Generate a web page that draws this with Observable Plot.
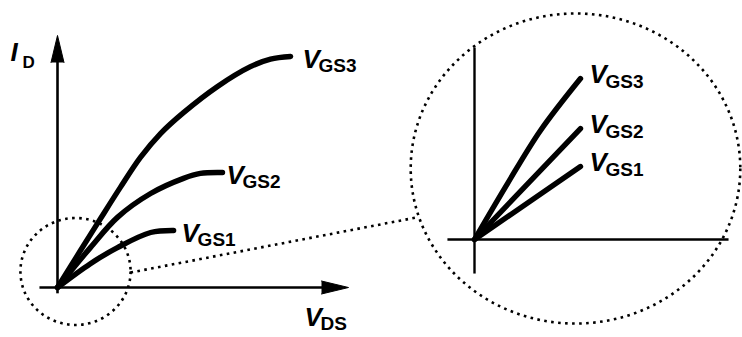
<!DOCTYPE html>
<html><head><meta charset="utf-8">
<script src="https://cdn.jsdelivr.net/npm/d3@7"></script>
<script src="https://cdn.jsdelivr.net/npm/@observablehq/plot@0.6"></script>
<style>body{margin:0;background:#fff}#chart svg{display:block;background:#fff}</style>
</head><body><div id="chart"></div>
<script>
// ---- Data (arbitrary units: V_DS, I_D) ----
const curveVGS3 = [
  {vds:0,id:0},{vds:0.79,id:1.27},{vds:1.48,id:2.37},{vds:2.16,id:3.44},{vds:2.85,id:4.47},
  {vds:3.54,id:5.29},{vds:4.33,id:6.01},{vds:5.50,id:6.91},{vds:6.63,id:7.59},{vds:7.32,id:7.85},{vds:8.01,id:7.94}
];
const curveVGS2 = [
  {vds:0,id:0},{vds:1.13,id:1.37},{vds:2.06,id:2.41},{vds:3.20,id:3.23},{vds:4.33,id:3.75},{vds:4.91,id:3.92},{vds:5.67,id:3.95}
];
const curveVGS1 = [
  {vds:0,id:0},{vds:1.13,id:0.82},{vds:2.06,id:1.37},{vds:3.20,id:1.89},{vds:3.99,id:1.96}
];
// zoomed-in (inset) view near the origin, in magnified units
const insetVGS3 = [{vds:0,id:0},{vds:0.378,id:0.641},{vds:0.756,id:1.249},{vds:1.214,id:1.844}];
const insetVGS2 = [{vds:0,id:0},{vds:1.214,id:1.271}];
const insetVGS1 = [{vds:0,id:0},{vds:1.214,id:0.836}];
const seriesNames = ["GS1", "GS2", "GS3"];
const axisLabelX = ["V", "DS"];
const axisLabelY = ["I", "D"];
const mainAxisExtent = {xMin:-0.62, xMax:10.0, yMin:-0.2, yMax:8.66};
const insetAxisExtent = {xMin:-0.31, xMax:2.91, yMin:-0.39, yMax:2.20};

// ---- Layout ----
const W = 742, H = 337;
const K = 29.1;               // px per unit
const OX = 57, OY = 287;      // pixel position of the main origin
const insetOrigin = {vds:(474-OX)/K, id:(OY-239)/K};
const MAG = 3;
const smallLens = {vds:(75-OX)/K, id:(OY-271)/K};
const bigLens = {vds:(575-OX)/K, id:(OY-168)/K};
const connector = [{x1:(130-OX)/K, y1:(OY-272)/K, x2:(416-OX)/K, y2:(OY-217)/K}];
const labelGap = [8, 4, 12];   // px gap between curve end and its label (GS1, GS2, GS3)

const toInset = arr => arr.map(d => ({vds: insetOrigin.vds + d.vds*MAG, id: insetOrigin.id + d.id*MAG}));

function ellipseSymbol(ax, ay) {
  return {draw(ctx, size) {
    const r = Math.sqrt(size/Math.PI), rx = r*ax, ry = r*ay, k = 0.5523;
    ctx.moveTo(rx, 0);
    ctx.bezierCurveTo(rx, ry*k, rx*k, ry, 0, ry);
    ctx.bezierCurveTo(-rx*k, ry, -rx, ry*k, -rx, 0);
    ctx.bezierCurveTo(-rx, -ry*k, -rx*k, -ry, 0, -ry);
    ctx.bezierCurveTo(rx*k, -ry, rx, -ry*k, rx, 0);
    ctx.closePath();
  }};
}

const mainCurves = [curveVGS1, curveVGS2, curveVGS3];
const insetCurves = [insetVGS1, insetVGS2, insetVGS3].map(toInset);
const mainEnds = mainCurves.map((c,i) => ({...c[c.length-1], name: seriesNames[i]}));
const insetEnds = insetCurves.map((c,i) => ({...c[c.length-1], name: seriesNames[i]}));

const axesMain = [
  {x1:mainAxisExtent.xMin, y1:0, x2:mainAxisExtent.xMax-0.3, y2:0},
  {x1:0, y1:mainAxisExtent.yMin, x2:0, y2:mainAxisExtent.yMax-0.3}
];
const axesInset = [
  {x1:insetOrigin.vds+insetAxisExtent.xMin*MAG, y1:insetOrigin.id, x2:insetOrigin.vds+insetAxisExtent.xMax*MAG, y2:insetOrigin.id},
  {x1:insetOrigin.vds, y1:insetOrigin.id+insetAxisExtent.yMin*MAG, x2:insetOrigin.vds, y2:insetOrigin.id+insetAxisExtent.yMax*MAG}
];
const tips = [
  {x:mainAxisExtent.xMax, y:0, rot:90},
  {x:0, y:mainAxisExtent.yMax, rot:0}
];

const FONT = "Liberation Sans, Arial, Helvetica, sans-serif";
const dotted = {stroke:"black", strokeWidth:2.6, strokeDasharray:"2.6,4.4", fill:"none"};
const vStyle = {textAnchor:"start", fontFamily:FONT, fontStyle:"italic", fontWeight:"bold", fontSize:26};
const subStyle = {textAnchor:"start", fontFamily:FONT, fontWeight:"bold", fontSize:19};

const mainLabelMarks = mainEnds.flatMap((e, i) => [
  Plot.text([e], {x:"vds", y:"id", text:() => "V", dx:labelGap[i], dy:3, ...vStyle}),
  Plot.text([e], {x:"vds", y:"id", text:"name", dx:labelGap[i]+16, dy:9, ...subStyle})
]);

const marks = [
  // lenses and connector
  Plot.dot([smallLens], {x:"vds", y:"id", r:54, symbol: ellipseSymbol(1.02, 0.99), ...dotted}),
  Plot.dot([bigLens], {x:"vds", y:"id", r:160, symbol: ellipseSymbol(1.03, 0.969), ...dotted}),
  Plot.link(connector, {x1:"x1", y1:"y1", x2:"x2", y2:"y2", ...dotted}),
  // axes
  Plot.link(axesMain, {x1:"x1", y1:"y1", x2:"x2", y2:"y2", stroke:"black", strokeWidth:2.6}),
  Plot.vector(tips, {x:"x", y:"y", rotate:"rot", length:27, r:6.5, shape:"spike", anchor:"end", fill:"black", stroke:"black", strokeWidth:1}),
  Plot.link(axesInset, {x1:"x1", y1:"y1", x2:"x2", y2:"y2", stroke:"black", strokeWidth:2.4}),
  // curves
  ...mainCurves.map(c => Plot.line(c, {x:"vds", y:"id", curve:"catmull-rom", stroke:"black", strokeWidth:5.4})),
  ...insetCurves.map(c => Plot.line(c, {x:"vds", y:"id", curve:"catmull-rom", stroke:"black", strokeWidth:5.4})),
  // series labels
  ...mainLabelMarks,
  Plot.text(insetEnds, {x:"vds", y:"id", text:() => "V", dx:9, dy:-4, ...vStyle}),
  Plot.text(insetEnds, {x:"vds", y:"id", text:"name", dx:25, dy:3, ...subStyle}),
  // axis titles
  Plot.text([tips[1]], {x:"x", y:"y", text:() => axisLabelY[0], dx:-47, dy:17, ...vStyle}),
  Plot.text([tips[1]], {x:"x", y:"y", text:() => axisLabelY[1], dx:-35, dy:27, ...subStyle, fontSize:17}),
  Plot.text([tips[0]], {x:"x", y:"y", text:() => axisLabelX[0], dx:-44, dy:30, ...vStyle}),
  Plot.text([tips[0]], {x:"x", y:"y", text:() => axisLabelX[1], dx:-28, dy:36, ...subStyle})
];

const chart = Plot.plot({
  width: W, height: H,
  marginTop:0, marginRight:0, marginBottom:0, marginLeft:0,
  x: {domain:[-OX/K, (W-OX)/K], axis:null},
  y: {domain:[-(H-OY)/K, OY/K], axis:null},
  style: {background:"white", overflow:"visible"},
  marks
});
document.getElementById("chart").appendChild(chart);
</script>
</body></html>
